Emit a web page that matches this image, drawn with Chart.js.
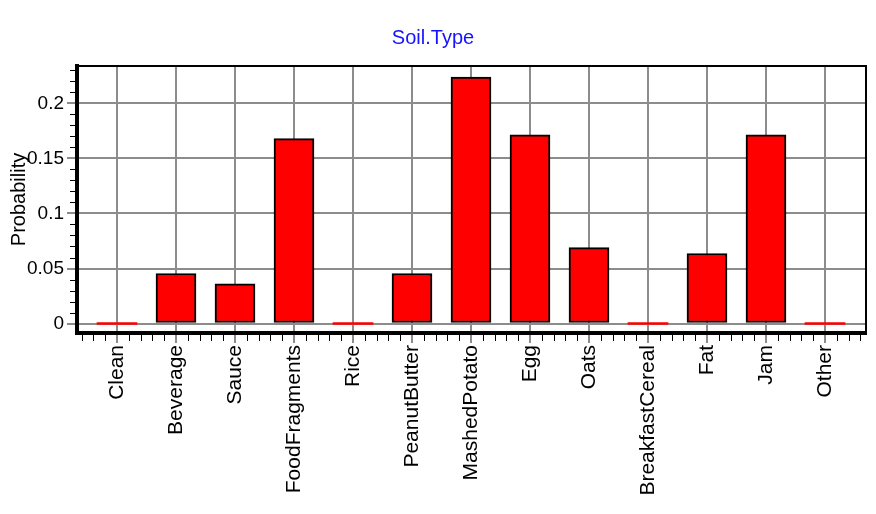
<!DOCTYPE html>
<html><head><meta charset="utf-8">
<script src="https://cdn.jsdelivr.net/npm/chart.js@4/dist/chart.umd.min.js"></script>
<style>html,body{margin:0;padding:0;background:#fff;} canvas{display:block;}</style>
</head><body>
<canvas id="c" width="876" height="514"></canvas>
<script>
const categories = ['Clean','Beverage','Sauce','FoodFragments','Rice','PeanutButter','MashedPotato','Egg','Oats','BreakfastCereal','Fat','Jam','Other'];
const probabilities = [0, 0.0455, 0.0361, 0.168, 0, 0.0455, 0.2239, 0.1714, 0.069, 0, 0.0636, 0.1714, 0];
const yTickValues = [0, 0.05, 0.1, 0.15, 0.2];
const yMinorStep = 0.01;
const xMinorStep = 0.2;

const FONT = "'Liberation Sans', Arial, sans-serif";
const GRID = '#8c8c8c';

const frame = {
  id: 'frame',
  afterDraw(chart) {
    const {ctx, chartArea: a, scales: {x, y}} = chart;
    ctx.save();
    ctx.strokeStyle = '#000';
    ctx.lineWidth = 1;
    for (let k = Math.ceil(y.min / yMinorStep); k * yMinorStep <= y.max; k++) {
      const v = k * yMinorStep;
      if (Math.abs(v / 0.05 - Math.round(v / 0.05)) < 1e-6) continue;
      const py = Math.round(y.getPixelForValue(v)) + 0.5;
      ctx.beginPath(); ctx.moveTo(a.left - 7, py); ctx.lineTo(a.left - 2, py); ctx.stroke();
    }
    for (let k = Math.ceil(x.min / xMinorStep); k * xMinorStep <= x.max; k++) {
      const v = k * xMinorStep;
      if (Math.abs(v - Math.round(v)) < 1e-6) continue;
      const px = Math.round(x.getPixelForValue(v)) + 0.5;
      ctx.beginPath(); ctx.moveTo(px, a.bottom + 2); ctx.lineTo(px, a.bottom + 8); ctx.stroke();
    }
    ctx.lineWidth = 2;
    ctx.beginPath();
    ctx.moveTo(a.left, a.top);
    ctx.lineTo(a.right, a.top);
    ctx.lineTo(a.right, a.bottom);
    ctx.stroke();
    ctx.restore();
  }
};

new Chart(document.getElementById('c'), {
  type: 'bar',
  data: {
    datasets: [{
      data: categories.map((c, i) => ({x: i, y: probabilities[i]})),
      backgroundColor: '#ff0000',
      borderColor: probabilities.map(v => v === 0 ? '#ff0000' : '#000000'),
      borderWidth: probabilities.map(v => v === 0 ? 0 : 2),
      borderSkipped: false,
      minBarLength: 2,
      barThickness: 40
    }]
  },
  options: {
    responsive: false,
    animation: false,
    devicePixelRatio: 1,
    layout: {padding: {left: 0, right: 10, top: 0, bottom: 0}},
    plugins: {
      legend: {display: false},
      tooltip: {enabled: false},
      title: {
        display: true, text: 'Soil.Type', color: '#1414ff',
        font: {family: FONT, size: 20, weight: 'normal'},
        padding: {top: 26, bottom: 16}
      }
    },
    scales: {
      x: {
        type: 'linear', min: -0.678, max: 12.695, offset: false,
        afterBuildTicks: s => { s.ticks = categories.map((c, i) => ({value: i})); },
        afterFit: s => { s.height = 181; },
        ticks: {
          autoSkip: false, minRotation: 90, maxRotation: 90, padding: 2, color: '#000',
          font: {family: FONT, size: 21},
          callback: v => categories[v] ?? ''
        },
        grid: {offset: false, color: GRID, lineWidth: 2, tickLength: 10, tickColor: GRID, tickWidth: 2},
        border: {display: true, color: '#000', width: 4}
      },
      y: {
        min: -0.0086, max: 0.234,
        afterBuildTicks: s => { s.ticks = yTickValues.map(v => ({value: v})); },
        afterFit: s => { s.width = 77; },
        ticks: {padding: 3, color: '#000', font: {family: FONT, size: 19}, callback: v => String(v)},
        grid: {color: GRID, lineWidth: 2, tickLength: 10, tickColor: GRID, tickWidth: 2},
        border: {display: true, color: '#000', width: 4},
        title: {display: true, text: 'Probability', color: '#000', font: {family: FONT, size: 20}, padding: {top: 7, bottom: 0}}
      }
    }
  },
  plugins: [frame]
});
</script>
</body></html>
